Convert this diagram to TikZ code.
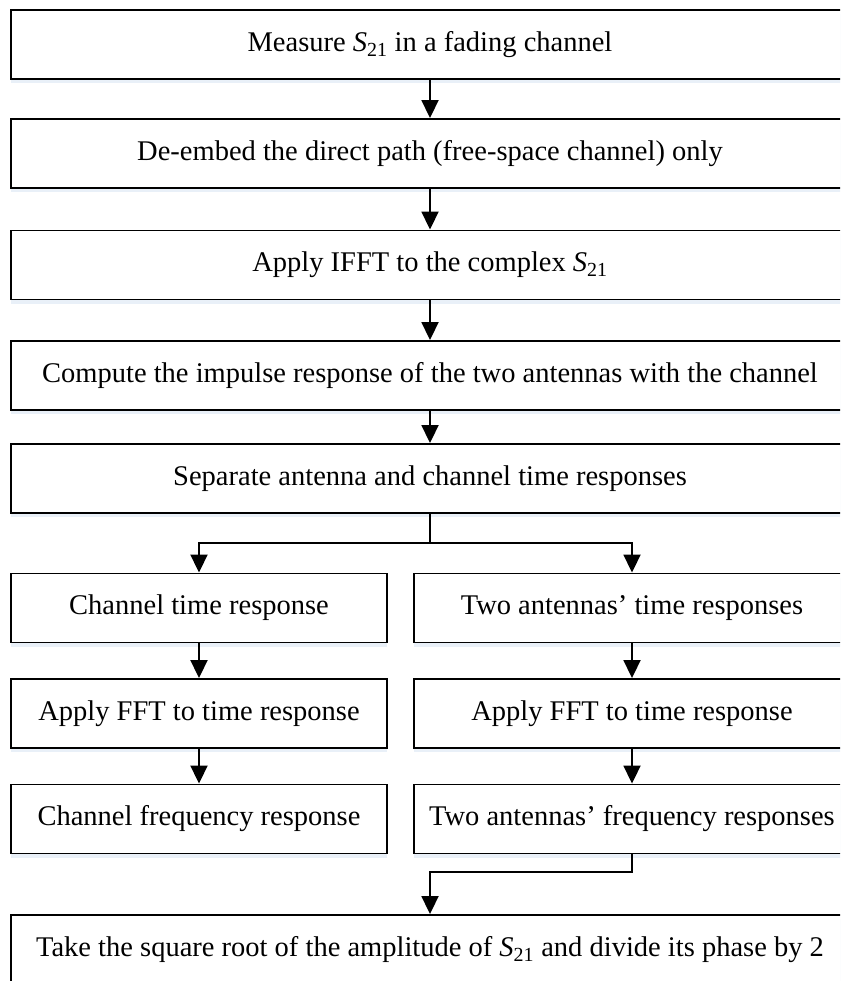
\documentclass[tikz,border=0pt]{standalone}
\usepackage{fontspec}
\setmainfont{Liberation Serif}
\usetikzlibrary{arrows.meta,shadows}

\definecolor{haze}{RGB}{228,236,246}

\tikzset{
  stepbox/.style={draw=black, line width=1.9pt, fill=white, inner sep=0pt,
    minimum height=69pt, font=\fontsize{28.5}{34}\selectfont,
    drop shadow={shadow xshift=0pt, shadow yshift=-4pt, fill=haze, opacity=0.8}},
  wide/.style={stepbox, minimum width=838pt},
  leftcol/.style={stepbox, minimum width=376pt},
  rightcol/.style={stepbox, minimum width=436pt},
  flow/.style={line width=1.9pt, -{Triangle[length=18pt,width=17pt]}},
  plain/.style={line width=1.9pt}
}

\newcommand{\Sxy}{\textit{S}\textsubscript{21}}

\begin{document}
\begin{tikzpicture}[x=1pt, y=-1pt]
  \useasboundingbox (0,0) rectangle (840,981);
  \clip (0,0) rectangle (840,981);

  % main column
  \node[wide] (b1) at (430,44.5)  {Measure \Sxy{} in a fading channel};
  \node[wide] (b2) at (430,153.5) {De-embed the direct path (free-space channel) only};
  \node[wide] (b3) at (430,265)   {Apply IFFT to the complex \Sxy};
  \node[wide] (b4) at (430,375.5) {Compute the impulse response of the two antennas with the channel};
  \node[wide] (b5) at (430,478.5) {Separate antenna and channel time responses};

  % two branches
  \node[leftcol]  (l1) at (199,608)   {Channel time response};
  \node[rightcol] (r1) at (632,608)   {Two antennas’ time responses};
  \node[leftcol]  (l2) at (199,713.5) {Apply FFT to time response};
  \node[rightcol] (r2) at (632,713.5) {Apply FFT to time response};
  \node[leftcol]  (l3) at (199,819)   {Channel frequency response};
  \node[rightcol] (r3) at (632,819)   {Two antennas’ frequency responses};

  % final step
  \node[wide] (b6) at (430,949.5) {Take the square root of the amplitude of \Sxy{} and divide its phase by 2};

  % connectors
  \draw[flow] (b1) -- (b2);
  \draw[flow] (b2) -- (b3);
  \draw[flow] (b3) -- (b4);
  \draw[flow] (b4) -- (b5);

  \coordinate (split) at (430,543);
  \draw[plain] (b5.south) -- (split);
  \draw[flow] (split) -| (l1.north);
  \draw[flow] (split) -| (r1.north);

  \draw[flow] (l1) -- (l2);
  \draw[flow] (l2) -- (l3);
  \draw[flow] (r1) -- (r2);
  \draw[flow] (r2) -- (r3);

  \coordinate (join) at (632,872);
  \draw[flow] (r3.south) -- (join) -| (b6.north);
\end{tikzpicture}
\end{document}
